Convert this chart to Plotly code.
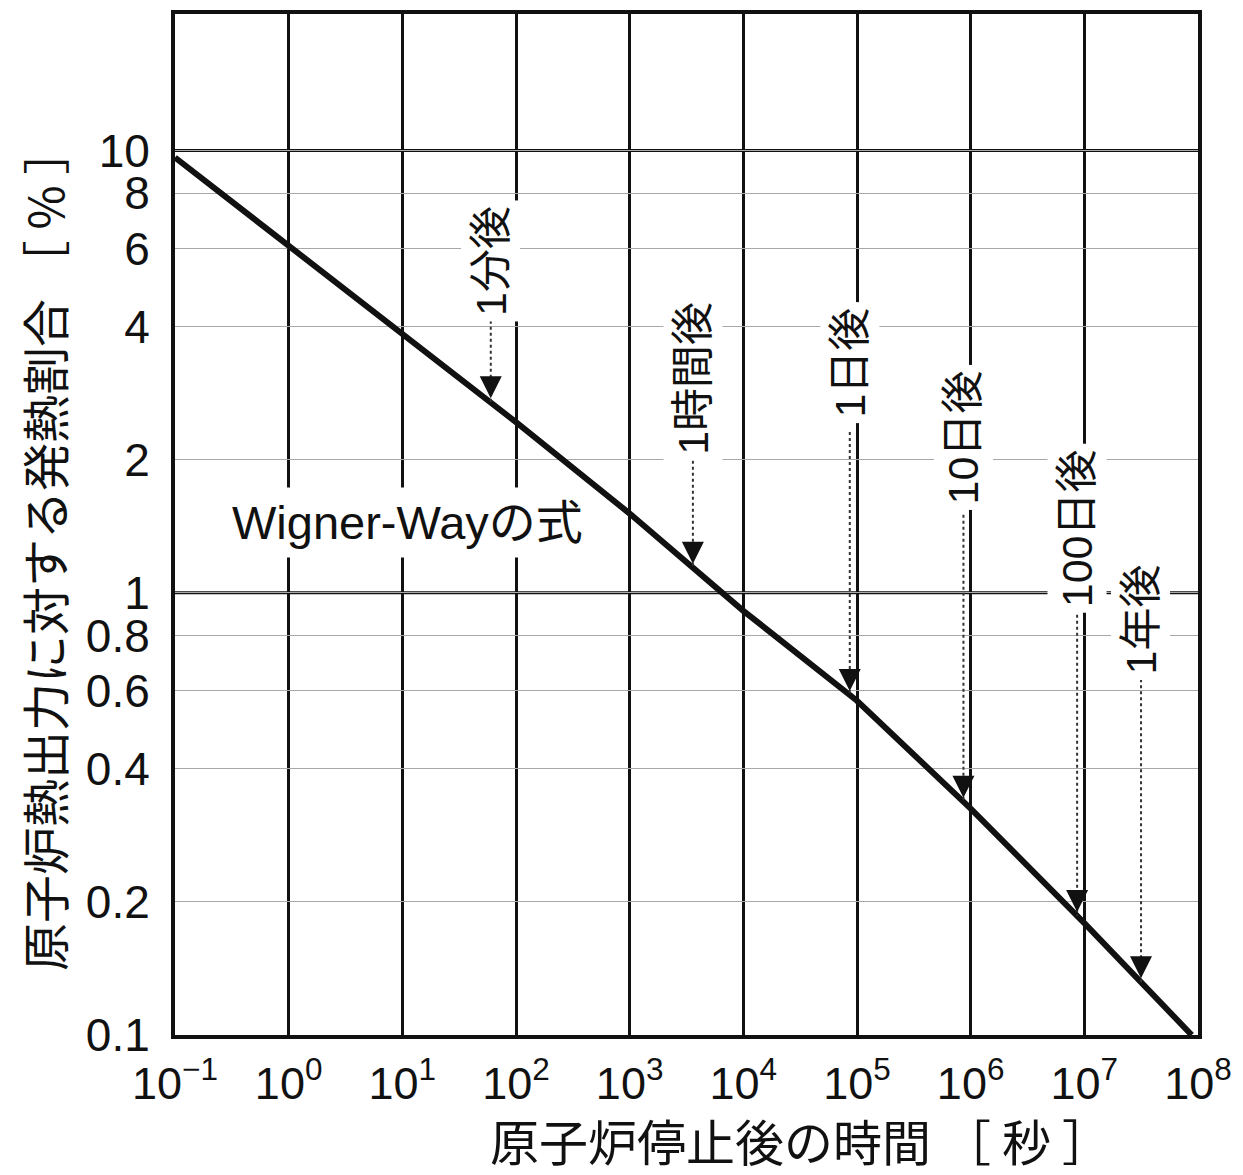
import numpy as np
import plotly.graph_objects as go

# ---------------- data ----------------
time_s = [0.1, 1, 10, 100, 1e3, 1e4, 1e5, 1e6, 1e7, 8.8e7]
heat_pct = [9.64, 6.1, 3.87, 2.43, 1.51, 0.91, 0.57, 0.325, 0.179, 0.1]

event_labels = ["1分後", "1時間後", "1日後", "10日後", "100日後", "1年後"]
event_times = [60, 3600, 86400, 864000, 8640000, 31536000]

y_tickvals = [0.1, 0.2, 0.4, 0.6, 0.8, 1, 2, 4, 6, 8, 10]
y_ticktext = ["0.1", "0.2", "0.4", "0.6", "0.8", "1", "2", "4", "6", "8", "10"]
x_exponents = [-1, 0, 1, 2, 3, 4, 5, 6, 7, 8]

curve_name = "Wigner-Wayの式"
x_title = "原子炉停止後の時間 ［ 秒 ］"
y_title = "原子炉熱出力に対する発熱割合 ［ % ］"

# ---------------- layout helpers (label placement, in % units) ----------------
label_center_y = [5.62, 3.06, 3.31, 2.25, 1.40, 0.87]
arrow_top_y = [4.12, 2.05, 2.31, 1.50, 0.92, 0.658]

x_tickvals = [10.0 ** e for e in x_exponents]
x_ticktext = [f"10<sup>{'−' + str(-e) if e < 0 else e}</sup>" for e in x_exponents]

LAT = "Liberation Sans, Arial, Noto Sans CJK JP"
CJK = "Noto Sans CJK JP, Liberation Sans"

fig = go.Figure()
fig.add_trace(go.Scatter(
    x=time_s, y=heat_pct, mode="lines", name=curve_name,
    line=dict(color="#111111", width=6), showlegend=False, hoverinfo="x+y"))

# value of the curve at each event time (log-log interpolation of the data)
lt = np.log10(time_s)
lp = np.log10(heat_pct)
tips = [10 ** np.interp(np.log10(t), lt, lp) for t in event_times]

shapes = []
annotations = []
# heavy reference lines at 1 % and 10 %
for yv in (1, 10):
    shapes.append(dict(type="line", xref="paper", x0=0, x1=1, yref="y", y0=yv, y1=yv,
                       line=dict(color="#111111", width=3), layer="between"))

for lab, t, yc, ytop, tip in zip(event_labels, event_times, label_center_y, arrow_top_y, tips):
    shapes.append(dict(type="line", xref="x", yref="y", x0=t, x1=t, y0=ytop, y1=tip,
                       line=dict(color="#333333", width=2, dash="dot"), layer="above"))
    annotations.append(dict(x=np.log10(t), y=np.log10(tip), xref="x", yref="y", text="",
                            showarrow=True, ax=0, ay=-22, arrowhead=2, arrowsize=2.2,
                            arrowwidth=2, arrowcolor="#111111", standoff=4))
    annotations.append(dict(x=np.log10(t), y=np.log10(yc), xref="x", yref="y", text=lab,
                            showarrow=False, textangle=-90, bgcolor="white", borderpad=5,
                            font=dict(family=LAT, size=43, color="#111111")))

annotations.append(dict(x=np.log10(11.0), y=np.log10(1.445), xref="x", yref="y", text=curve_name,
                        showarrow=False, bgcolor="white", borderpad=8,
                        font=dict(family=LAT, size=47, color="#111111")))

# axis titles
annotations.append(dict(x=(800 - 175) / 1023, y=-0.102, xref="paper", yref="paper", text=x_title,
                        showarrow=False, xanchor="center", yanchor="middle",
                        font=dict(family=CJK, size=49, color="#111111")))
annotations.append(dict(x=(43 - 175) / 1023, y=(1035 - 547) / 1025, xref="paper", yref="paper",
                        text=y_title, showarrow=False, textangle=-90, xanchor="center",
                        yanchor="middle", font=dict(family=CJK, size=48, color="#111111")))

fig.update_layout(
    width=1243, height=1175,
    margin=dict(l=167, r=53, t=2, b=148),
    paper_bgcolor="white", plot_bgcolor="white",
    shapes=shapes, annotations=annotations,
    font=dict(family=LAT, color="#111111"),
)
fig.update_xaxes(
    type="log", range=[-1, 8], tickmode="array", tickvals=x_tickvals, ticktext=x_ticktext,
    showgrid=True, gridcolor="#111111", gridwidth=2.5,
    showline=True, linecolor="#111111", linewidth=4, mirror=True,
    ticks="", ticklabelstandoff=6, tickfont=dict(family=LAT, size=45, color="#111111"),
    zeroline=False,
)
fig.update_yaxes(
    type="log", range=[-1, 1.3086], tickmode="array", tickvals=y_tickvals, ticktext=y_ticktext,
    showgrid=True, gridcolor="#a8a8a8", gridwidth=1.3,
    showline=True, linecolor="#111111", linewidth=4, mirror=True,
    ticks="", ticklabelstandoff=12, tickfont=dict(family=LAT, size=46, color="#111111"),
    zeroline=False,
)

fig.write_html("out.html")
